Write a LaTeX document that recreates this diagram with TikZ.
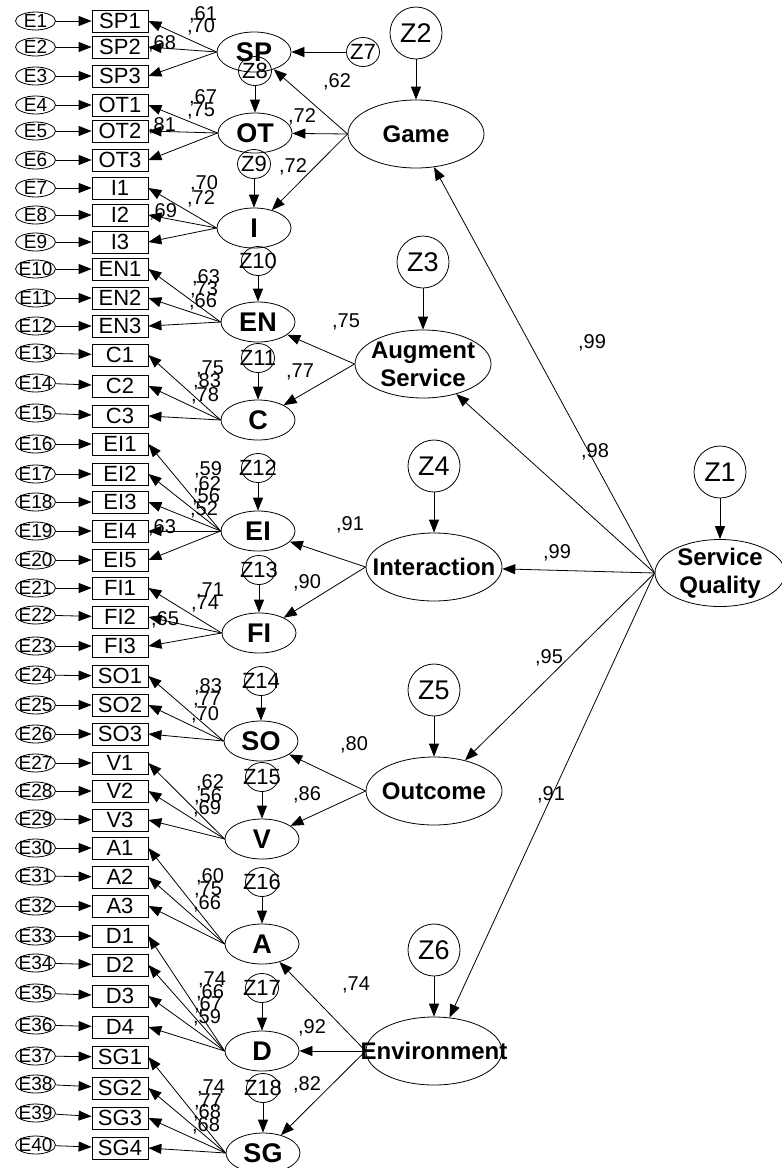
\documentclass[tikz,border=0pt]{standalone}
\usepackage{fontspec}
\setmainfont{Liberation Sans}
\usetikzlibrary{shapes.geometric,arrows.meta}
\tikzset{
  arr/.style={-{Triangle[length=13pt,width=10pt]}, line width=0.8pt},
  evar/.style={draw, ellipse, line width=0.8pt, minimum width=40pt, minimum height=18pt, inner sep=0pt},
  etxt/.style={inner sep=0pt, font=\fontsize{19}{19}\selectfont},
  ind/.style={draw, rectangle, line width=0.8pt, minimum width=56pt, minimum height=22pt, inner sep=0pt, font=\fontsize{22}{22}\selectfont},
  latone/.style={draw, ellipse, line width=0.8pt, minimum width=74pt, minimum height=40pt, inner sep=0pt, font=\bfseries\fontsize{27}{27}\selectfont},
  zsmall/.style={draw, ellipse, line width=0.8pt, minimum width=33pt, minimum height=29pt, inner sep=0pt},
  zstxt/.style={inner sep=0pt, font=\fontsize{22}{22}\selectfont},
  zbig/.style={draw, circle, line width=0.8pt, minimum size=52pt, inner sep=0pt, font=\fontsize{27}{27}\selectfont},
  lattwo/.style={draw, ellipse, line width=0.8pt, minimum width=136pt, minimum height=68pt, inner sep=0pt},
  ltxt/.style={inner sep=0pt, align=center, font=\bfseries\fontsize{24}{28}\selectfont},
  ld/.style={inner sep=0pt, font=\fontsize{20}{20}\selectfont},
}
\begin{document}
\begin{tikzpicture}[x=1pt,y=-1pt]
\useasboundingbox (0,0) rectangle (782,1168);

% indicators and error terms
\foreach \n/\t/\y/\ey in {
 1/SP1/21/21, 2/SP2/47/47, 3/SP3/76/76, 4/OT1/105/105, 5/OT2/131/131, 6/OT3/160/160,
 7/I1/188/188, 8/I2/215/215, 9/I3/242/242, 10/EN1/269/269, 11/EN2/298/298, 12/EN3/326/326,
 13/C1/355/353, 14/C2/386/383, 15/C3/416/413, 16/EI1/444/444, 17/EI2/474/474, 18/EI3/502/502,
 19/EI4/531/531, 20/EI5/560/560, 21/FI1/588/588, 22/FI2/617/615, 23/FI3/646/646,
 24/SO1/676/675, 25/SO2/705/705, 26/SO3/734/734, 27/V1/763/763, 28/V2/791/791, 29/V3/820/819,
 30/A1/848/848, 31/A2/877/876, 32/A3/906/906, 33/D1/936/936, 34/D2/965/963, 35/D3/996/993,
 36/D4/1027/1025, 37/SG1/1057/1056, 38/SG2/1088/1084, 39/SG3/1118/1113, 40/SG4/1148/1145} {
  \node[ind] (b\n) at (120,\y) {\t};
  \node[evar, label={[etxt]center:E\n}] (e\n) at (35.5,\ey) {};
  \draw[arr] (e\n) -- (b\n);
}

% first-order latent variables
\node[latone] (lsp) at (254,52) {SP};
\node[latone] (lot) at (255,133) {OT};
\node[latone] (li)  at (254,228) {I};
\node[latone] (len) at (258,322) {EN};
\node[latone] (lc)  at (258,420) {C};
\node[latone] (lei) at (258,531) {EI};
\node[latone] (lfi) at (259,633) {FI};
\node[latone] (lso) at (261,741) {SO};
\node[latone] (lv)  at (262,839) {V};
\node[latone] (la)  at (262,944) {A};
\node[latone] (ldd) at (262,1051) {D};
\node[latone] (lsg) at (263,1153) {SG};

% loadings arrows
\foreach \l/\a/\b in {lsp/1/3, lot/4/6, li/7/9, len/10/12, lc/13/15, lei/16/20, lfi/21/23,
  lso/24/26, lv/27/29, la/30/32, ldd/33/36, lsg/37/40} {
  \foreach \k in {\a,...,\b} { \draw[arr] (\l.west) -- (b\k.east); }
}

% small disturbances
\node[zsmall, label={[zstxt]center:Z7}] (z7) at (363,52) {};
\node[zsmall, label={[zstxt]center:Z8}] (z8) at (255,71) {};
\node[zsmall, label={[zstxt]center:Z9}] (z9) at (254,164) {};
\node[zsmall, label={[zstxt]center:Z10}] (z10) at (258,261) {};
\node[zsmall, label={[zstxt]center:Z11}] (z11) at (258,358) {};
\node[zsmall, label={[zstxt]center:Z12}] (z12) at (258,468) {};
\node[zsmall, label={[zstxt]center:Z13}] (z13) at (259,570) {};
\node[zsmall, label={[zstxt]center:Z14}] (z14) at (261,681) {};
\node[zsmall, label={[zstxt]center:Z15}] (z15) at (262,777) {};
\node[zsmall, label={[zstxt]center:Z16}] (z16) at (262,882) {};
\node[zsmall, label={[zstxt]center:Z17}] (z17) at (262,988) {};
\node[zsmall, label={[zstxt]center:Z18}] (z18) at (263,1088) {};
\draw[arr] (z7) -- (lsp);
\draw[arr] (z8) -- (lot);
\draw[arr] (z9) -- (li);
\draw[arr] (z10) -- (len);
\draw[arr] (z11) -- (lc);
\draw[arr] (z12) -- (lei);
\draw[arr] (z13) -- (lfi);
\draw[arr] (z14) -- (lso);
\draw[arr] (z15) -- (lv);
\draw[arr] (z16) -- (la);
\draw[arr] (z17) -- (ldd);
\draw[arr] (z18) -- (lsg);

% second-order latent variables
\node[lattwo, label={[ltxt]center:{Game}}] (game) at (416,134) {};
\node[lattwo, label={[ltxt]center:{Augment\\Service}}] (aug) at (423,364) {};
\node[lattwo, label={[ltxt]center:{Interaction}}] (inter) at (434,567) {};
\node[lattwo, label={[ltxt]center:{Outcome}}] (outc) at (434,791) {};
\node[lattwo, label={[ltxt]center:{Environment}}] (env) at (434,1051) {};
\node[lattwo, minimum width=130pt, minimum height=67pt, label={[ltxt]center:{Service\\Quality}}] (sq) at (720,573) {};

\node[zbig] (z2) at (416,33) {Z2};
\node[zbig] (z3) at (423,262) {Z3};
\node[zbig] (z4) at (434,466) {Z4};
\node[zbig] (z5) at (434,690) {Z5};
\node[zbig] (z6) at (434,950) {Z6};
\node[zbig] (z1) at (720,472) {Z1};
\draw[arr] (z2) -- (game);
\draw[arr] (z3) -- (aug);
\draw[arr] (z4) -- (inter);
\draw[arr] (z5) -- (outc);
\draw[arr] (z6) -- (env);
\draw[arr] (z1) -- (sq);

\draw[arr] (game.west) -- (lsp);
\draw[arr] (game.west) -- (lot);
\draw[arr] (game.west) -- (li);
\draw[arr] (aug.west) -- (len);
\draw[arr] (aug.west) -- (lc);
\draw[arr] (inter.west) -- (lei);
\draw[arr] (inter.west) -- (lfi);
\draw[arr] (outc.west) -- (lso);
\draw[arr] (outc.west) -- (lv);
\draw[arr] (env.west) -- (la);
\draw[arr] (env.west) -- (ldd);
\draw[arr] (env.west) -- (lsg);

\draw[arr] (sq.west) -- (game);
\draw[arr] (sq.west) -- (aug);
\draw[arr] (sq.west) -- (inter);
\draw[arr] (sq.west) -- (outc);
\draw[arr] (sq.west) -- (env);

% loading values
\node[ld] (t1) at (203,15) {,61};
\node[ld] (t2) at (201,27) {,70};
\node[ld] (t3) at (162,44) {,68};
\node[ld] (t4) at (203,98) {,67};
\node[ld] (t5) at (201,111) {,75};
\node[ld] (t6) at (162,126) {,81};
\node[ld] (t7) at (204,184) {,70};
\node[ld] (t8) at (201,199) {,72};
\node[ld] (t9) at (163,212) {,69};
\node[ld] (t10) at (206,278) {,63};
\node[ld] (t11) at (204,290) {,73};
\node[ld] (t12) at (203,302) {,66};
\node[ld] (t13) at (210,369) {,75};
\node[ld] (t14) at (207,382) {,83};
\node[ld] (t15) at (205,396) {,78};
\node[ld] (t16) at (208,470) {,59};
\node[ld] (t17) at (207,485) {,62};
\node[ld] (t18) at (206,497) {,56};
\node[ld] (t19) at (204,510) {,52};
\node[ld] (t20) at (162,528) {,63};
\node[ld] (t21) at (210,591) {,71};
\node[ld] (t22) at (205,604) {,74};
\node[ld] (t23) at (165,620) {,65};
\node[ld] (t24) at (208,687) {,83};
\node[ld] (t25) at (207,700) {,77};
\node[ld] (t26) at (205,715) {,70};
\node[ld] (t27) at (210,783) {,62};
\node[ld] (t28) at (208,797) {,56};
\node[ld] (t29) at (207,809) {,69};
\node[ld] (t30) at (210,877) {,60};
\node[ld] (t31) at (208,890) {,75};
\node[ld] (t32) at (207,904) {,66};
\node[ld] (t33) at (212,980) {,74};
\node[ld] (t34) at (210,993) {,66};
\node[ld] (t35) at (208,1005) {,67};
\node[ld] (t36) at (207,1018) {,59};
\node[ld] (t37) at (211,1088) {,74};
\node[ld] (t38) at (208,1102) {,77};
\node[ld] (t39) at (207,1113) {,68};
\node[ld] (t40) at (206,1126) {,68};

\node[ld] (s1) at (337,82) {,62};
\node[ld] (s2) at (302,117) {,72};
\node[ld] (s3) at (293,167) {,72};
\node[ld] (s4) at (346,322) {,75};
\node[ld] (s5) at (300,372) {,77};
\node[ld] (s6) at (350,525) {,91};
\node[ld] (s7) at (307,583) {,90};
\node[ld] (s8) at (354,745) {,80};
\node[ld] (s9) at (307,795) {,86};
\node[ld] (s10) at (356,985) {,74};
\node[ld] (s11) at (312,1028) {,92};
\node[ld] (s12) at (307,1085) {,82};

\node[ld] (q1) at (592,343) {,99};
\node[ld] (q2) at (595,452) {,98};
\node[ld] (q3) at (557,553) {,99};
\node[ld] (q4) at (549,658) {,95};
\node[ld] (q5) at (551,795) {,91};
\end{tikzpicture}
\end{document}
